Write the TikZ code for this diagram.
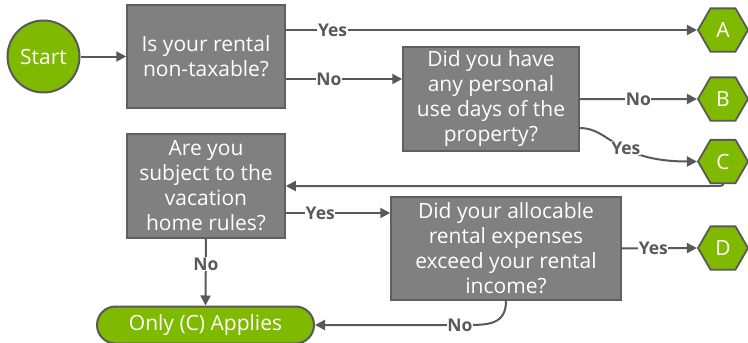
\documentclass[tikz,border=0pt]{standalone}
\usepackage{fontspec}
\setmainfont{Open Sans}
\usetikzlibrary{shapes.geometric,shapes.misc,arrows.meta}
\definecolor{grn}{HTML}{7FBA00}
\definecolor{boxg}{HTML}{808080}
\definecolor{edg}{HTML}{606060}
\definecolor{ln}{HTML}{595959}
\begin{document}
\begin{tikzpicture}[x=1pt,y=-1pt,
  qbox/.style={draw=edg,line width=1.5pt,fill=boxg,text=white,align=center,inner sep=0pt,
    font=\fontsize{21}{25}\selectfont},
  hexa/.style={regular polygon,regular polygon sides=6,minimum size=50pt,inner sep=0pt,
    draw=ln,line width=1.8pt,fill=grn,text=white,font=\fontsize{21}{24}\selectfont},
  conn/.style={draw=ln,line width=2pt,-{Triangle[length=10pt,width=10pt]}},
  lbl/.style={fill=white,text=ln,inner sep=0.6pt,font=\bfseries\fontsize{17.5}{19}\selectfont}
]
\useasboundingbox (0,0) rectangle (748,343);
% start
\node[circle,draw=ln,line width=2pt,fill=grn,text=white,minimum size=72pt,inner sep=0pt,
  font=\fontsize{21}{24}\selectfont] (start) at (43.5,56.5) {Start};
% question boxes
\node[qbox,minimum width=158pt,minimum height=103pt] (q1) at (206,56.5) {Is your rental\\non-taxable?};
\node[qbox,minimum width=176pt,minimum height=104pt] (q2) at (491,99) {Did you have\\any personal\\use days of the\\property?};
\node[qbox,minimum width=158pt,minimum height=104pt] (q3) at (206,186) {Are you\\subject to the\\vacation\\home rules?};
\node[qbox,minimum width=230pt,minimum height=103pt] (q4) at (506,248.5) {Did your allocable\\rental expenses\\exceed your rental\\income?};
% outcomes
\node[hexa] (A) at (723,30) {A};
\node[hexa] (B) at (723,99) {B};
\node[hexa] (C) at (723,161.5) {C};
\node[hexa] (D) at (723,248) {D};
\node[rounded rectangle,draw=ln,line width=2pt,fill=grn,text=white,minimum width=217pt,
  minimum height=37pt,inner sep=0pt,font=\fontsize{21}{24}\selectfont] (only) at (205.5,325) {Only (C) Applies};
% connectors
\draw[conn] (start) -- (q1);
\draw[conn] (q1.east |- A.west) -- node[lbl,pos=0.114] {Yes} (A.west);
\coordinate (q1no) at ([yshift=-22.5pt]q1.east);
\draw[conn] (q1no) -- node[lbl,pos=0.37] {No} (q1no -| q2.west);
\draw[conn] (q2.east) -- node[lbl,pos=0.5] {No} (B.west);
\coordinate (q2yes) at ([yshift=-29pt]q2.east);
\draw[conn] (q2yes) .. controls (610,128) and (615,161.5) .. node[lbl,pos=0.57] {Yes} (C.west);
\coordinate (cturn) at ([xshift=-18pt]C.south |- q3.east);
\draw[conn] (C.south) .. controls (C.south |- q3.east) .. (cturn) -- (q3.east);
\coordinate (q3yes) at ([yshift=-27pt]q3.east);
\draw[conn] (q3yes) -- node[lbl,pos=0.33] {Yes} (q3yes -| q4.west);
\draw[conn] (q3.south) -- node[lbl,pos=0.38] {No} (only.north);
\draw[conn] (q4.east) -- node[lbl,pos=0.42] {Yes} (D.west);
\coordinate (q4turn) at ([xshift=-40pt]q4.south |- only.east);
\draw[conn] (q4.south) .. controls ([yshift=-24pt]q4.south) and ([xshift=22pt]q4turn) .. (q4turn)
  -- node[lbl,pos=0.04] {No} (only.east);
\end{tikzpicture}
\end{document}
